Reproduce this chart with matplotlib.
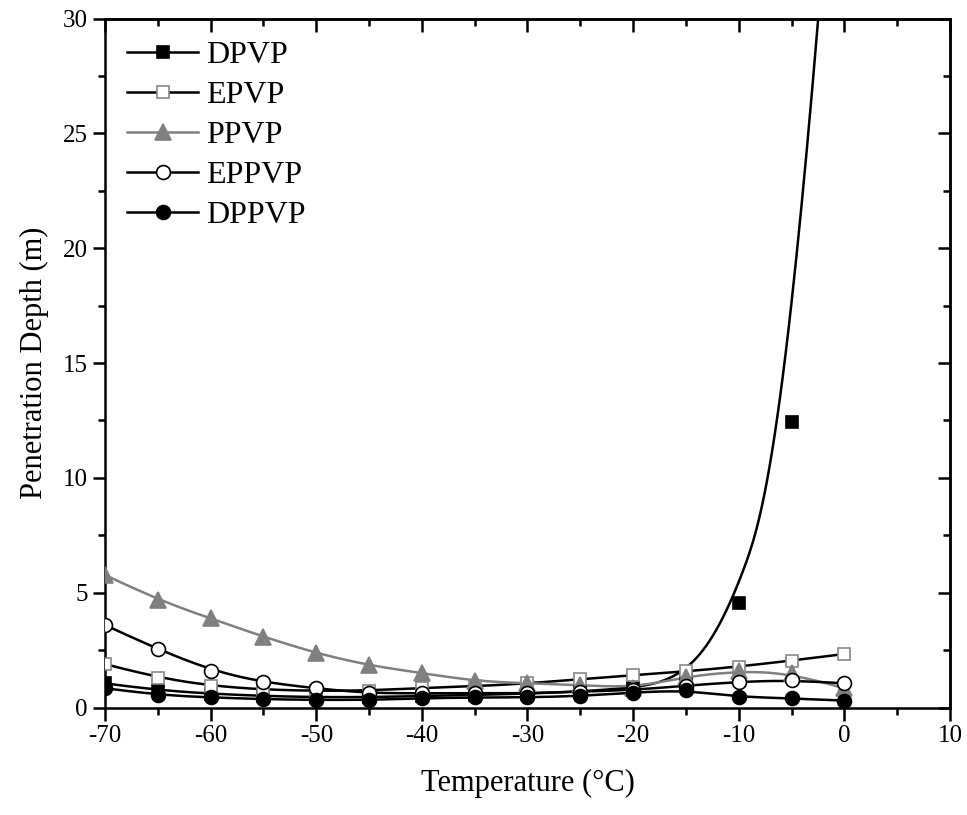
import numpy as np
import matplotlib
matplotlib.use("Agg")
import matplotlib.pyplot as plt
from matplotlib.lines import Line2D
from matplotlib.ticker import MultipleLocator

plt.rcParams['font.family'] = ['Liberation Serif', 'DejaVu Serif']
plt.rcParams['axes.unicode_minus'] = False

temperature = [-70, -65, -60, -55, -50, -45, -40, -35, -30, -25, -20, -15, -10, -5, 0]
dpvp = [1.05, 0.75, 0.60, 0.50, 0.45, 0.45, 0.50, 0.55, 0.60, 0.70, 0.85, 1.25, 4.53, 12.45, 45.0]
epvp = [1.89, 1.29, 0.94, 0.78, 0.72, 0.74, 0.85, 0.92, 1.05, 1.23, 1.41, 1.57, 1.78, 2.04, 2.33]
ppvp = [5.77, 4.68, 3.88, 3.08, 2.36, 1.83, 1.50, 1.15, 1.05, 0.98, 0.85, 1.34, 1.60, 1.52, 0.83]
eppvp = [3.59, 2.53, 1.60, 1.10, 0.83, 0.62, 0.62, 0.62, 0.62, 0.69, 0.76, 0.95, 1.12, 1.20, 1.05]
dppvp = [0.84, 0.54, 0.44, 0.36, 0.33, 0.33, 0.40, 0.44, 0.44, 0.50, 0.65, 0.76, 0.44, 0.40, 0.30]

series = [
    ("DPVP", dpvp, "black", dict(marker="s", mfc="black", mec="black", ms=8)),
    ("EPVP", epvp, "black", dict(marker="s", mfc="white", mec="#888888", ms=9)),
    ("PPVP", ppvp, "#808080", dict(marker="^", mfc="#808080", mec="#808080", ms=11)),
    ("EPPVP", eppvp, "black", dict(marker="o", mfc="white", mec="black", ms=10)),
    ("DPPVP", dppvp, "black", dict(marker="o", mfc="black", mec="black", ms=10)),
]


def bspline(px, py, num=800, k=3):
    P = np.column_stack([px, py]).astype(float)
    n = len(P)
    t = np.concatenate([np.zeros(k), np.arange(n - k + 1), np.full(k, n - k)]).astype(float)
    u = np.linspace(0, n - k, num)
    u[-1] -= 1e-9
    N = np.array([(t[i] <= u) & (u < t[i + 1]) for i in range(len(t) - 1)], dtype=float)
    for p in range(1, k + 1):
        newN = np.zeros((len(t) - p - 1, num))
        for i in range(len(t) - p - 1):
            d1 = t[i + p] - t[i]
            d2 = t[i + p + 1] - t[i + 1]
            a = (u - t[i]) / d1 * N[i] if d1 > 0 else 0.0
            b = (t[i + p + 1] - u) / d2 * N[i + 1] if d2 > 0 else 0.0
            newN[i] = a + b
        N = newN
    C = N.T @ P
    return C[:, 0], C[:, 1]


fig = plt.figure(figsize=(9.67, 8.15), dpi=100)
ax = fig.add_axes([0.1086, 0.1319, 0.8738, 0.8454])

handles = []
for idx, (name, vals, col, mk) in enumerate(series):
    cx, cy = bspline(temperature, vals)
    ax.plot(cx, cy, color=col, lw=1.8, zorder=2 + idx * 0.01)
    ax.plot(temperature, vals, linestyle="none", zorder=5 + idx, mew=1.2, **mk)
    handles.append(Line2D([], [], color=col, lw=1.8, mew=1.2, label=name, **mk))

ax.set_xlim(-70, 10)
ax.set_ylim(0, 30)
ax.xaxis.set_major_locator(MultipleLocator(10))
ax.xaxis.set_minor_locator(MultipleLocator(5))
ax.yaxis.set_major_locator(MultipleLocator(5))
ax.yaxis.set_minor_locator(MultipleLocator(2.5))

for sp in ax.spines.values():
    sp.set_linewidth(1.8)

ax.tick_params(axis="both", which="major", direction="out", length=9, width=1.8,
               labelsize=18, top=False, right=False)
ax.tick_params(axis="both", which="minor", direction="out", length=5, width=1.8,
               top=False, right=False)

ax2 = ax.secondary_xaxis("top")
ax2.xaxis.set_major_locator(MultipleLocator(10))
ax2.xaxis.set_minor_locator(MultipleLocator(5))
ax2.tick_params(which="major", direction="in", length=9, width=1.8, labeltop=False)
ax2.tick_params(which="minor", direction="in", length=5, width=1.8)
ax3 = ax.secondary_yaxis("right")
ax3.yaxis.set_major_locator(MultipleLocator(5))
ax3.yaxis.set_minor_locator(MultipleLocator(2.5))
ax3.tick_params(which="major", direction="in", length=9, width=1.8, labelright=False)
ax3.tick_params(which="minor", direction="in", length=5, width=1.8)
for a in (ax2, ax3):
    for sp in a.spines.values():
        sp.set_linewidth(1.8)

ax.set_xlabel("Temperature (°C)", fontsize=22, labelpad=16)
ax.set_ylabel("Penetration Depth (m)", fontsize=22, labelpad=10)

ax.legend(handles=handles, loc="upper left", frameon=False, fontsize=23,
          handlelength=2.2, handletextpad=0.25, labelspacing=0.33,
          borderaxespad=0.3, bbox_to_anchor=(0.0, 1.0))

fig.savefig("out.png", dpi=100)
